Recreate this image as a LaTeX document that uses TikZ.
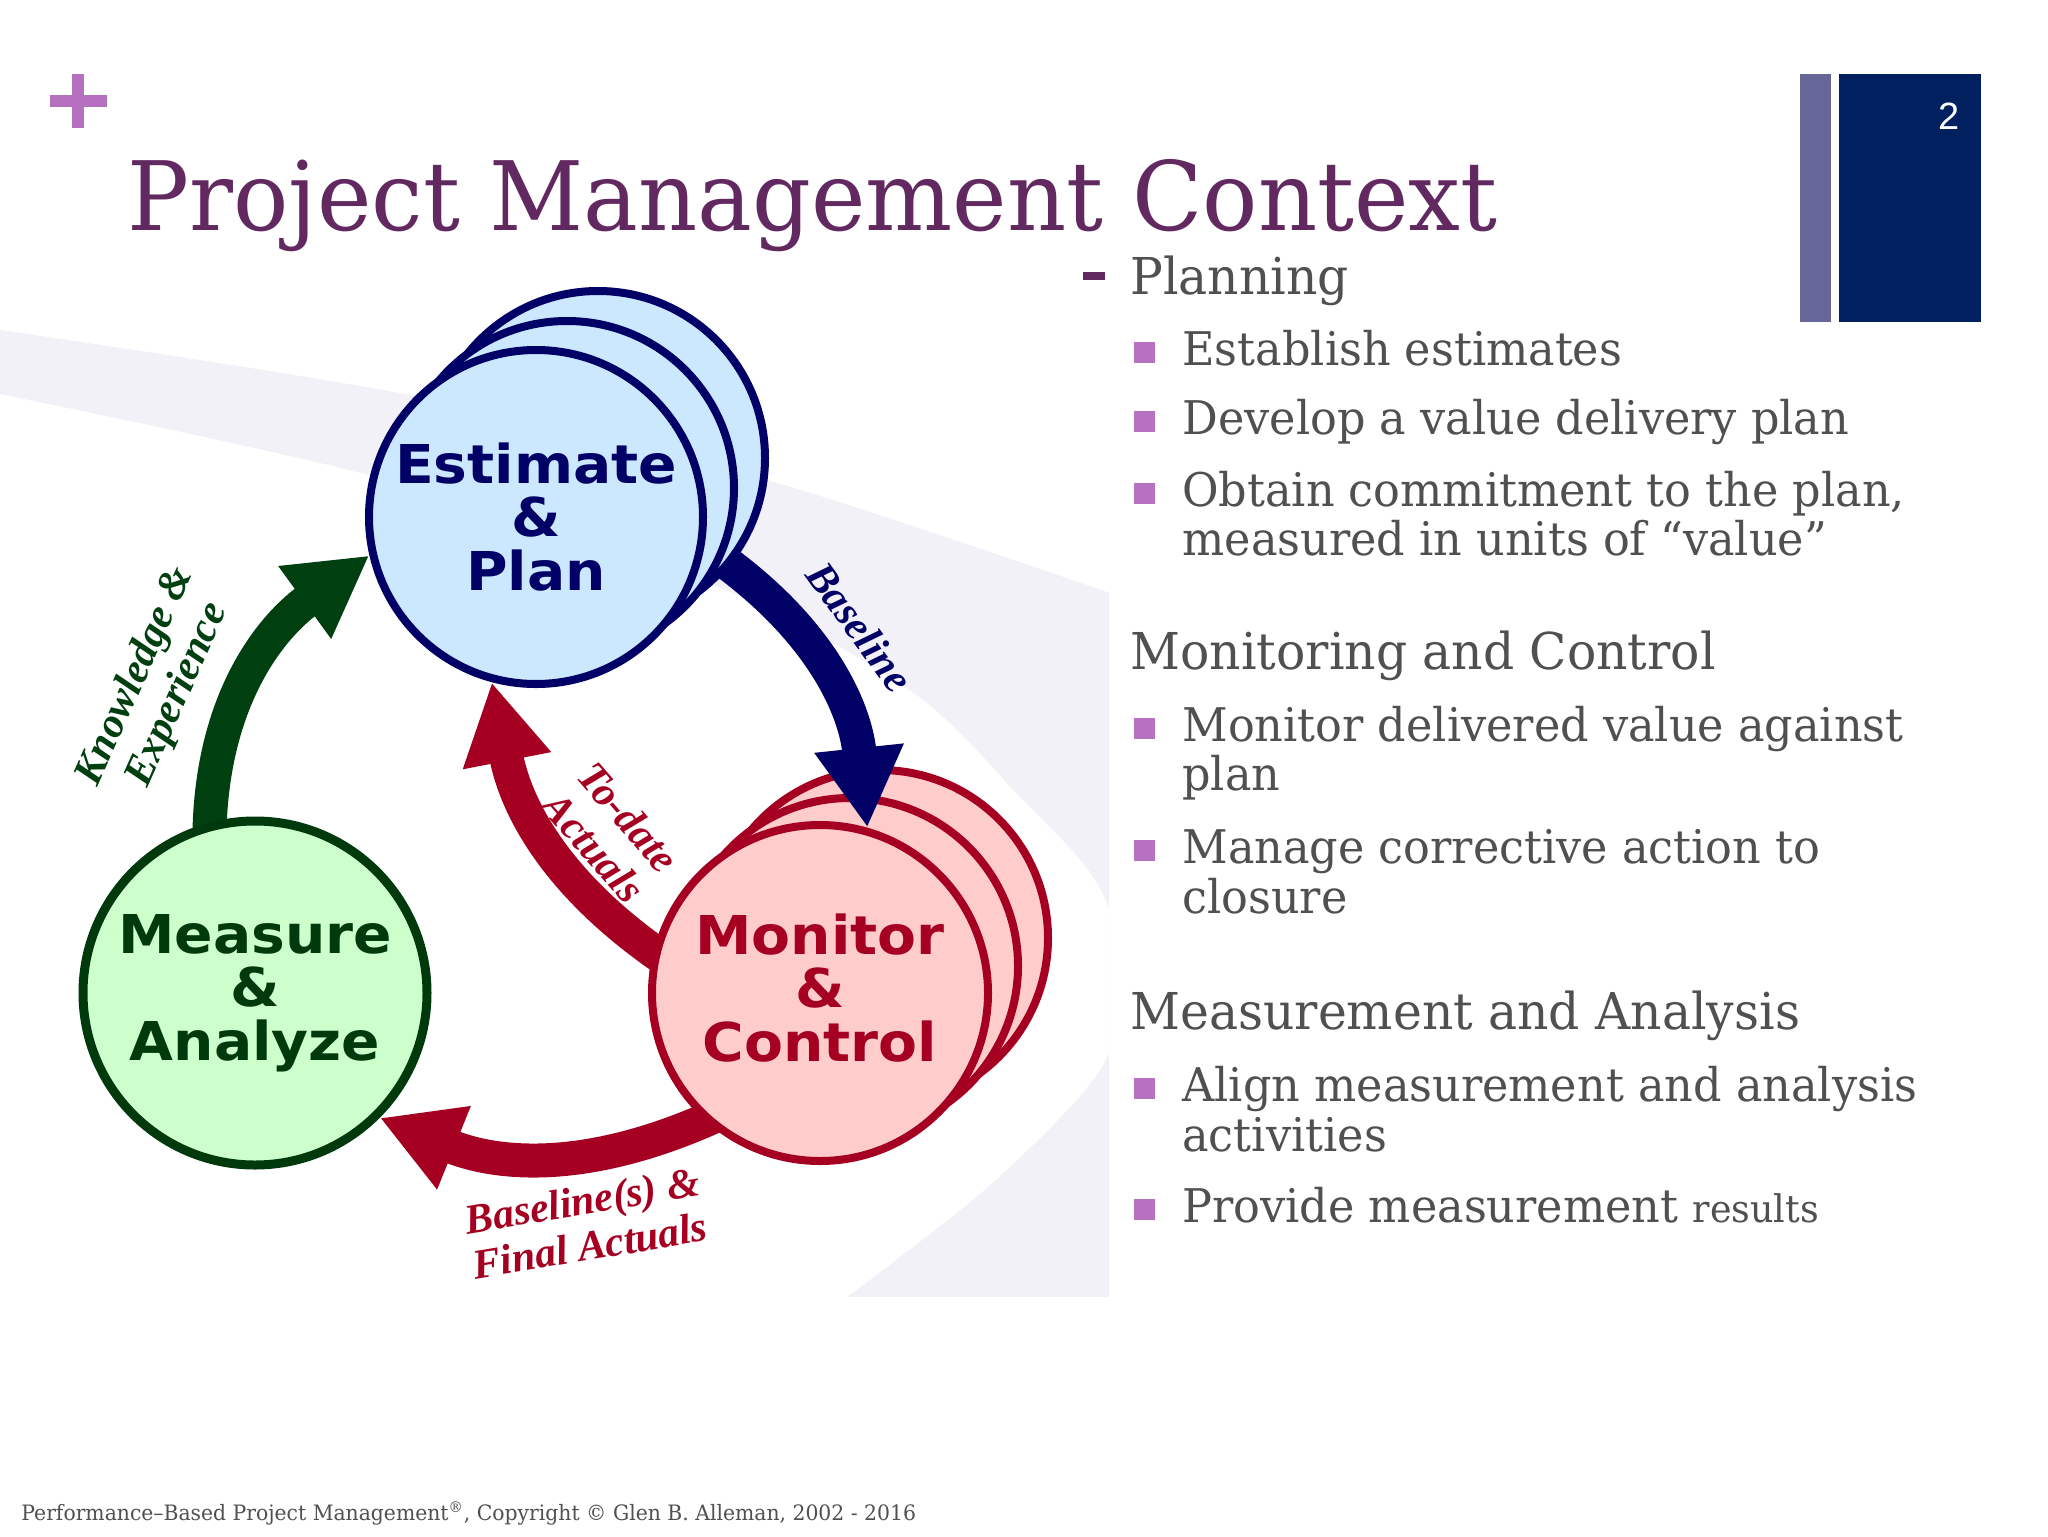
\documentclass[tikz,border=0pt]{standalone}
\usepackage{fontspec}
\usetikzlibrary{arrows.meta}
\newfontfamily\slab{DejaVu Serif}[FakeStretch=0.96]
\newfontfamily\circfont{DejaVu Sans}[FakeStretch=1.06]
\newfontfamily\labfont{Liberation Serif}
\newfontfamily\numfont{Liberation Sans}
\pgfdeclarelayer{band}
\pgfdeclarelayer{under}
\pgfdeclarelayer{front}
\pgfsetlayers{band,under,main,front}
\definecolor{navy}{RGB}{0,0,102}
\definecolor{epfill}{RGB}{204,232,255}
\definecolor{mcred}{RGB}{165,0,33}
\definecolor{mcfill}{RGB}{255,204,204}
\definecolor{magreen}{RGB}{0,58,12}
\definecolor{mafill}{RGB}{204,255,204}
\definecolor{arrgreen}{RGB}{0,64,16}
\definecolor{bandc}{RGB}{242,241,247}
\definecolor{titlec}{RGB}{98,40,96}
\definecolor{plusc}{RGB}{182,112,192}
\definecolor{bulc}{RGB}{184,112,192}
\definecolor{bodyc}{RGB}{80,80,82}
\definecolor{barlight}{RGB}{102,102,153}
\definecolor{bardark}{RGB}{0,32,96}
\tikzset{
  ring/.style={circle, inner sep=0pt, line width=4pt},
  epc/.style={ring, draw=navy, fill=epfill, minimum size=167pt},
  mcc/.style={ring, draw=mcred, fill=mcfill, minimum size=168pt},
  mac/.style={ring, draw=magreen, fill=mafill, minimum size=172pt, line width=4.5pt},
  ctext/.style={font=\circfont\bfseries\fontsize{26.75pt}{26.75pt}\selectfont, align=center},
  blockarrow/.style={line width=17pt, -{Triangle[length=40pt,width=42pt]}, shorten <=-10pt},
  lab/.style={font=\labfont\bfseries\itshape\fontsize{21pt}{23pt}\selectfont, align=center, inner sep=0pt},
  lvlone/.style={anchor=base west, inner sep=0pt, text=bodyc, font=\slab\fontsize{25.4pt}{30pt}\selectfont},
  lvltwo/.style={anchor=base west, inner sep=0pt, text=bodyc, font=\slab\fontsize{23.2pt}{25pt}\selectfont},
  bul/.style={fill=bulc, minimum size=10.5pt, inner sep=0pt},
}
\begin{document}
\begin{tikzpicture}[x=0.5pt,y=-0.5pt]
\useasboundingbox (0,0) rectangle (2048,1536);
\begin{pgfonlayer}{band}
\fill[white] (0,0) rectangle (2048,1536);
\begin{scope}
\clip (0,274) rectangle (1109,1296);
\fill[bandc] plot[smooth] coordinates {(-20,327) (404,394) (767,480) (1130,600)} -- (1130,1320) -- (-20,1320) -- cycle;
\fill[white] plot[smooth] coordinates {(-20,390) (368,475) (713,585) (912,692) (1019,796) (1095,880) (1125,970) (1100,1070) (990,1185) (843,1300)} -- (843,1320) -- (-20,1320) -- cycle;
\end{scope}
\end{pgfonlayer}

% Estimate & Plan (front layer)
\begin{pgfonlayer}{front}
\node[epc] (ep3) at (598,458) {};
\node[epc] (ep2) at (567,488) {};
\node[epc, ctext, text=navy] (ep) at (536,517) {Estimate\\\&\\Plan};
\end{pgfonlayer}

% Monitor & Control, Measure & Analyze
\node[mcc] (mc3) at (880,938) {};
\node[mcc] (mc2) at (850,966) {};
\node[mcc, ctext, text=mcred] (mc) at (820,993) {Monitor\\\&\\Control\vphantom{y}};
\node[mac, ctext, text=magreen] (ma) at (255,993) {Measure\\\&\\Analyze};

\draw[blockarrow, navy] (ep.-10) to[out=-32, in=96] (mc.74);

\begin{pgfonlayer}{under}
\draw[blockarrow, arrgreen] (ma.105) to[out=90, in=216] (ep.193);
\draw[blockarrow, mcred] (mc.166) to[out=146, in=-79] (ep.255);
\draw[blockarrow, mcred] (mc.228) to[out=205, in=-22] (ma.-45);
\end{pgfonlayer}

% arrow labels
\node[lab, text=arrgreen, rotate=66] (lk) at (157,686) {Knowledge \&\\Experience};
\node[lab, text=navy, rotate=-54] (lb) at (860,627) {Baseline};
\node[lab, text=mcred, rotate=-49] (lt) at (611,832) {To-date\\Actuals};
\node[lab, text=mcred, rotate=9.5, align=left] (lf) at (586,1223) {Baseline(s) \&\\Final Actuals};

% header
\fill[plusc] (50,95) rectangle (107,107);
\fill[plusc] (72,74) rectangle (84,128);
\node[anchor=base west, inner sep=0pt, text=titlec, font=\slab\fontsize{47.9pt}{50pt}\selectfont] (title) at (127,230) {Project Management Context};
\fill[barlight] (1800,74) rectangle (1831,322);
\fill[bardark] (1839,74) rectangle (1981,322);
\node[text=white, inner sep=0pt, font=\numfont\fontsize{19pt}{19pt}\selectfont] (pnum) at (1949,116) {2};

% right-hand text
\fill[titlec] (1083,272) rectangle (1105,280);
\node[lvlone] (t1) at (1130,294) {Planning};
\node[bul] (b1) at (1144.5,352) {};
\node[lvltwo] (s1) at (1182,365) {Establish estimates};
\node[bul] (b2) at (1144.5,421) {};
\node[lvltwo] (s2) at (1182,434) {Develop a value delivery plan};
\node[bul] (b3) at (1144.5,493) {};
\node[lvltwo] (s3) at (1182,506) {Obtain commitment to the plan,};
\node[lvltwo] (s3b) at (1182,555) {measured in units of “value”};

\node[lvlone] (t2) at (1130,669) {Monitoring and Control};
\node[bul] (b4) at (1144.5,728) {};
\node[lvltwo] (s4) at (1182,741) {Monitor delivered value against};
\node[lvltwo] (s4b) at (1182,790) {plan};
\node[bul] (b5) at (1144.5,850) {};
\node[lvltwo] (s5) at (1182,863) {Manage corrective action to};
\node[lvltwo] (s5b) at (1182,913) {closure};

\node[lvlone] (t3) at (1130,1029) {Measurement and Analysis};
\node[bul] (b6) at (1144.5,1088) {};
\node[lvltwo] (s6) at (1182,1101) {Align measurement and analysis};
\node[lvltwo] (s6b) at (1182,1151) {activities};
\node[bul] (b7) at (1144.5,1209) {};
\node[lvltwo] (s7) at (1182,1222) {Provide measurement {\fontsize{19pt}{20pt}\selectfont results}};

% footer
\node[anchor=base west, inner sep=0pt, text=bodyc, font=\slab\fontsize{10.6pt}{12pt}\selectfont] (foot) at (21,1520) {Performance–Based Project Management\textsuperscript{®}, Copyright © Glen B. Alleman, 2002 - 2016};
\end{tikzpicture}
\end{document}
